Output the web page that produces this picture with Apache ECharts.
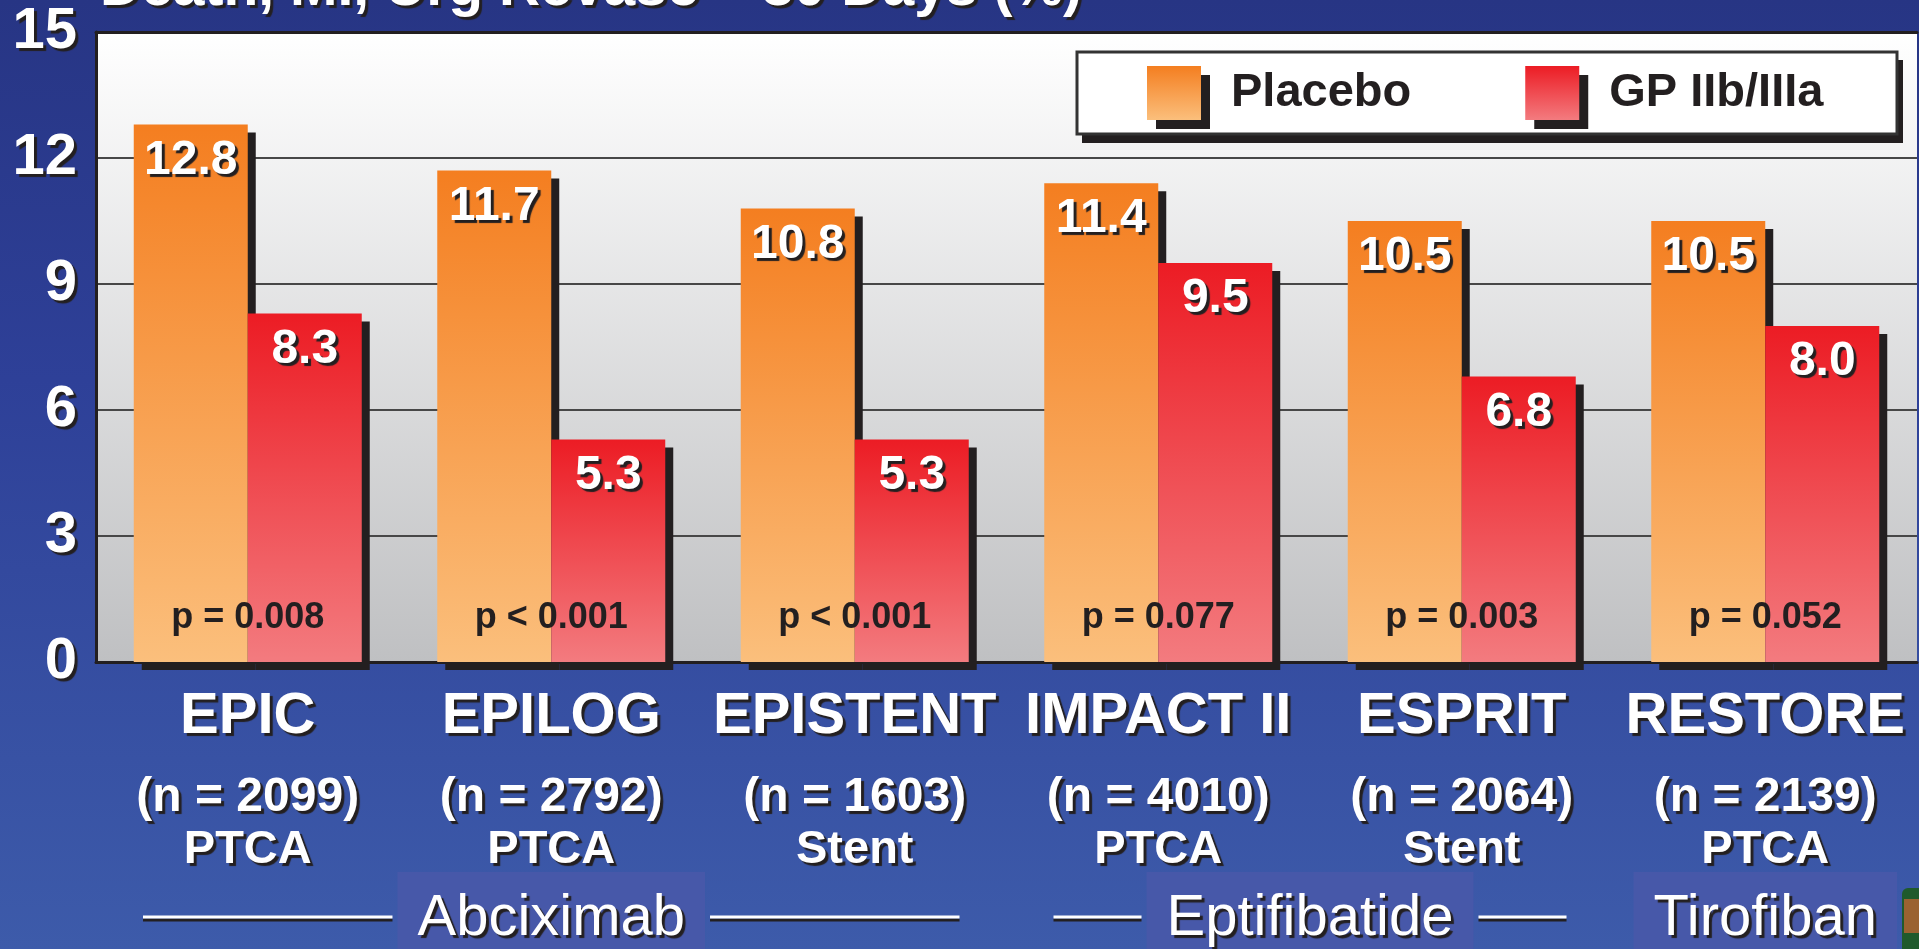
<!DOCTYPE html>
<html>
<head>
<meta charset="utf-8">
<title>Death, MI, Urg Revasc – 30 Days (%)</title>
<script src="https://cdn.jsdelivr.net/npm/echarts@6/dist/echarts.min.js"></script>
<style>
  html, body { margin: 0; padding: 0; }
  #chart {
    width: 1919px;
    height: 949px;
    background: linear-gradient(to bottom, #273584 0%, #2E4098 40%, #3D5BAA 100%);
  }
</style>
</head>
<body>
<div id="chart"></div>
<script>
// data
const trials = ['EPIC', 'EPILOG', 'EPISTENT', 'IMPACT II', 'ESPRIT', 'RESTORE']
const patients = [2099, 2792, 1603, 4010, 2064, 2139]
const procedures = ['PTCA', 'PTCA', 'Stent', 'PTCA', 'Stent', 'PTCA']
const placebo = [12.8, 11.7, 10.8, 11.4, 10.5, 10.5]
const gpIIbIIIa = [8.3, 5.3, 5.3, 9.5, 6.8, 8.0]
const pValues = ['p = 0.008', 'p < 0.001', 'p < 0.001', 'p = 0.077', 'p = 0.003', 'p = 0.052']
const drugs = ['Abciximab', 'Eptifibatide', 'Tirofiban']
const drugTrials = [[0, 2], [3, 4], [5, 5]]   // first / last trial index of each drug
const yMin = 0, yMax = 15, yStep = 3
const title = 'Death, MI, Urg Revasc – 30 Days (%)'

const FONT = '"Liberation Sans", Arial, sans-serif'
const INK = '#231F20'
// zrender only draws a text shadow when the blur is > 0
const shadowText = { textShadowColor: INK, textShadowOffsetX: 3, textShadowOffsetY: 3, textShadowBlur: 1 }

const grad = (top, bottom) => new echarts.graphic.LinearGradient(0, 0, 0, 1, [
  { offset: 0, color: top }, { offset: 1, color: bottom },
])

const chart = echarts.init(document.getElementById('chart'), null, { renderer: 'canvas' })

const barLabel = {
  show: true,
  position: 'insideTop',
  distance: 12,
  color: '#fff',
  fontSize: 48,
  fontWeight: 'bold',
  fontFamily: FONT,
  formatter: p => p.value.toFixed(1),
  ...shadowText,
}
const barShadow = { shadowColor: INK, shadowOffsetX: 8, shadowOffsetY: 8, shadowBlur: 0 }

chart.setOption({
  animation: false,
  grid: {
    left: 96, top: 32, right: 2, bottom: 287,
    show: true,
    borderWidth: 0,
    backgroundColor: grad('#FFFFFF', '#BFC0C2'),
  },
  legend: {
    data: ['Placebo', 'GP IIb/IIIa'],
    left: 1076, top: 52,
    padding: [14, 69, 14, 71],
    itemWidth: 54, itemHeight: 54, itemGap: 114,
    icon: 'rect',
    selectedMode: false,
    z: 6,
    itemStyle: { shadowColor: INK, shadowOffsetX: 9, shadowOffsetY: 9, shadowBlur: 0 },
    textStyle: { color: INK, fontSize: 47, fontWeight: 'bold', fontFamily: FONT, padding: [3, 0, 0, 25] },
  },
  xAxis: [{
    type: 'category',
    data: trials,
    axisLine: { lineStyle: { color: INK, width: 3 } },
    axisTick: { show: false },
    axisLabel: {
      interval: 0,
      margin: 13,
      formatter: (v, i) => `{t|${v}}\n{n|(n = ${patients[i]})}\n{p|${procedures[i]}}`,
      rich: {
        t: { color: '#fff', fontSize: 58, fontWeight: 'bold', fontFamily: FONT, lineHeight: 84, ...shadowText },
        n: { color: '#fff', fontSize: 48, fontWeight: 'bold', fontFamily: FONT, lineHeight: 77, ...shadowText },
        p: { color: '#fff', fontSize: 47, fontWeight: 'bold', fontFamily: FONT, lineHeight: 29, ...shadowText },
      },
    },
  }, {
    // just the dark frame line on top of the plot
    type: 'category',
    data: trials,
    position: 'top',
    axisLine: { lineStyle: { color: INK, width: 3 } },
    axisTick: { show: false },
    axisLabel: { show: false },
  }],
  yAxis: {
    type: 'value',
    min: yMin, max: yMax, interval: yStep,
    axisLine: { show: true, lineStyle: { color: INK, width: 3 } },
    axisTick: { show: false },
    splitLine: { lineStyle: { color: '#474747', width: 2 } },
    axisLabel: { color: '#fff', fontSize: 58, fontWeight: 'bold', fontFamily: FONT, margin: 19, ...shadowText },
  },
  series: [
    {
      name: 'Placebo',
      type: 'bar',
      data: placebo,
      barWidth: 114,
      barGap: '0%',
      itemStyle: { color: grad('#F47E20', '#FBBF7C'), ...barShadow },
      label: barLabel,
      emphasis: { disabled: true },
    },
    {
      name: 'GP IIb/IIIa',
      type: 'bar',
      data: gpIIbIIIa,
      barWidth: 114,
      barGap: '0%',
      itemStyle: { color: grad('#EC1C24', '#F37B7F'), ...barShadow },
      label: barLabel,
      emphasis: { disabled: true },
    },
  ],
})

const ctx = document.createElement('canvas').getContext('2d')
ctx.font = `58px ${FONT}`
const px = i => chart.convertToPixel({ xAxisIndex: 0 }, i)
const band = px(1) - px(0)

const graphics = [{
  type: 'text',
  style: {
    text: title, x: 100, y: -11,
    fill: '#fff', font: `bold 57px ${FONT}`,
    align: 'left', verticalAlign: 'middle',
    ...shadowText,
  },
}]

// legend frame with its drop shadow
graphics.push(
  { type: 'rect', shape: { x: 1082, y: 60, width: 821, height: 83 }, style: { fill: INK }, z: 4 },
  { type: 'rect', shape: { x: 1077, y: 52, width: 820, height: 82 }, style: { fill: '#fff', stroke: '#333', lineWidth: 3 }, z: 5 },
)

// p values, centred on each trial just above the baseline
pValues.forEach((p, i) => {
  const [x, y] = chart.convertToPixel({ xAxisIndex: 0, yAxisIndex: 0 }, [i, yMin])
  graphics.push({
    type: 'text',
    style: {
      text: p, x, y: y - 44,
      fill: INK, font: `bold 36px ${FONT}`,
      align: 'center', verticalAlign: 'middle',
    },
    z: 10,
  })
})

// drug brackets under the trial names
drugs.forEach((name, k) => {
  const [a, b] = drugTrials[k]
  const x0 = px(a) - band / 2
  const x1 = px(b) + band / 2
  const cx = (x0 + x1) / 2
  const half = ctx.measureText(name).width / 2 + 20
  graphics.push({
    type: 'rect',
    shape: { x: cx - half, y: 872, width: half * 2, height: 90 },
    style: { fill: '#4758A9' },
    z: 1,
  })
  const lines = [[x0 + 47, cx - half - 5], [cx + half + 5, x1 - 47]]
  lines.forEach(([s, e]) => {
    if (e - s <= 0) return
    graphics.push({
      type: 'line',
      shape: { x1: s, y1: 917, x2: e, y2: 917 },
      style: { stroke: '#fff', lineWidth: 3, shadowColor: INK, shadowOffsetY: 3, shadowBlur: 0 },
      z: 2,
    })
  })
  graphics.push({
    type: 'text',
    style: {
      text: name, x: cx, y: 919,
      fill: '#fff', font: `58px ${FONT}`,
      align: 'center', verticalAlign: 'middle',
      ...shadowText,
    },
    z: 3,
  })
})

// clipped slide icon at the right edge
graphics.push(
  { type: 'rect', shape: { x: 1902, y: 888, width: 24, height: 70, r: 6 }, style: { fill: '#1F5A2C' }, z: 1 },
  { type: 'rect', shape: { x: 1904, y: 899, width: 20, height: 34 }, style: { fill: '#9A6231' }, z: 2 },
)
chart.setOption({ graphic: graphics })
</script>
</body>
</html>
